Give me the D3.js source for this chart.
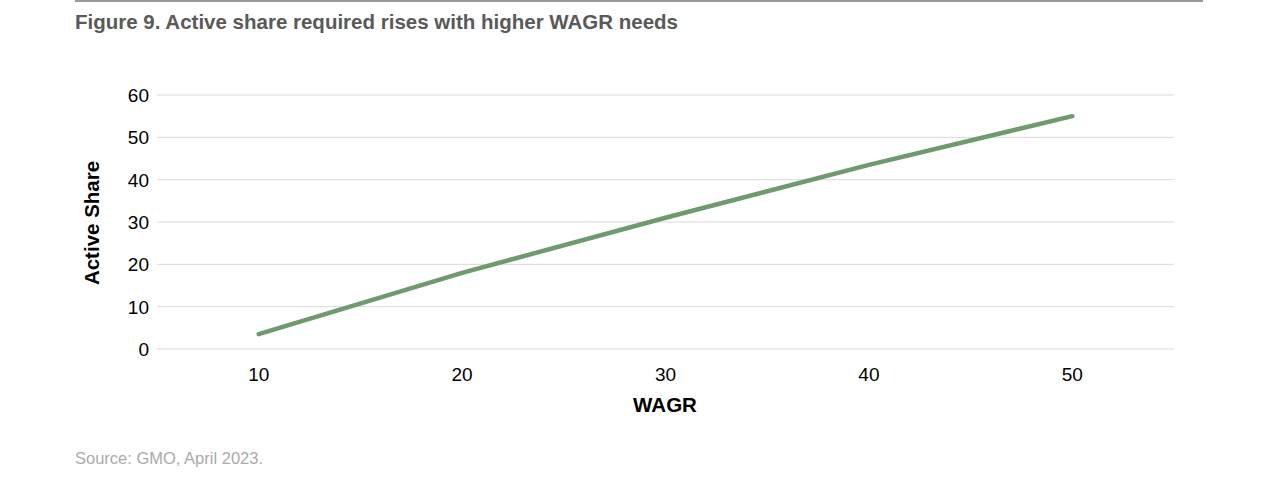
<!DOCTYPE html>
<html><head><meta charset="utf-8">
<script src="https://cdn.jsdelivr.net/npm/d3@7"></script>
<style>body{margin:0;background:#fff;font-family:Arial,"Liberation Sans",sans-serif}</style>
</head><body>
<svg id="c" width="1275" height="479"></svg>
<script>
const categories = ["10","20","30","40","50"];
const activeShare = [3.5, 18, 31, 43.5, 55];
const yTicks = [0,10,20,30,40,50,60];

const svg = d3.select("#c");
svg.append("line").attr("x1",75).attr("x2",1203).attr("y1",1).attr("y2",1).attr("stroke","#333").attr("stroke-width",1);
svg.append("text").attr("x",75).attr("y",29).attr("font-size",20.5).attr("font-weight","bold").attr("fill","#595959")
  .text("Figure 9. Active share required rises with higher WAGR needs");
svg.append("text").attr("x",75).attr("y",464).attr("font-size",16.5).attr("fill","#aaa").text("Source: GMO, April 2023.");

const x = d3.scaleBand().domain(categories).range([157,1174]);
const y = d3.scaleLinear().domain([0,60]).range([349,95]);

svg.append("g").selectAll("line").data(yTicks).join("line")
  .attr("x1",157).attr("x2",1174).attr("y1",d=>y(d)).attr("y2",d=>y(d))
  .attr("stroke","#d9d9d9").attr("stroke-width",1);

svg.append("g").selectAll("text").data(yTicks).join("text")
  .attr("x",149).attr("y",d=>y(d)+7).attr("text-anchor","end").attr("font-size",19).attr("fill","#000").text(d=>d);
svg.append("g").selectAll("text").data(categories).join("text")
  .attr("x",d=>x(d)+x.bandwidth()/2).attr("y",381).attr("text-anchor","middle").attr("font-size",19).attr("fill","#000").text(d=>d);

svg.append("text").attr("x",665).attr("y",412).attr("text-anchor","middle").attr("font-size",20.5).attr("font-weight","bold").text("WAGR");
svg.append("text").attr("transform","translate(99,223) rotate(-90)").attr("text-anchor","middle").attr("font-size",20.5).attr("font-weight","bold").text("Active Share");

const line = d3.line().x((d,i)=>x(categories[i])+x.bandwidth()/2).y(d=>y(d));
svg.append("path").datum(activeShare).attr("d",line).attr("fill","none").attr("stroke","#6f9a6d").attr("stroke-width",4.5).attr("stroke-linecap","round");
</script>
</body></html>
